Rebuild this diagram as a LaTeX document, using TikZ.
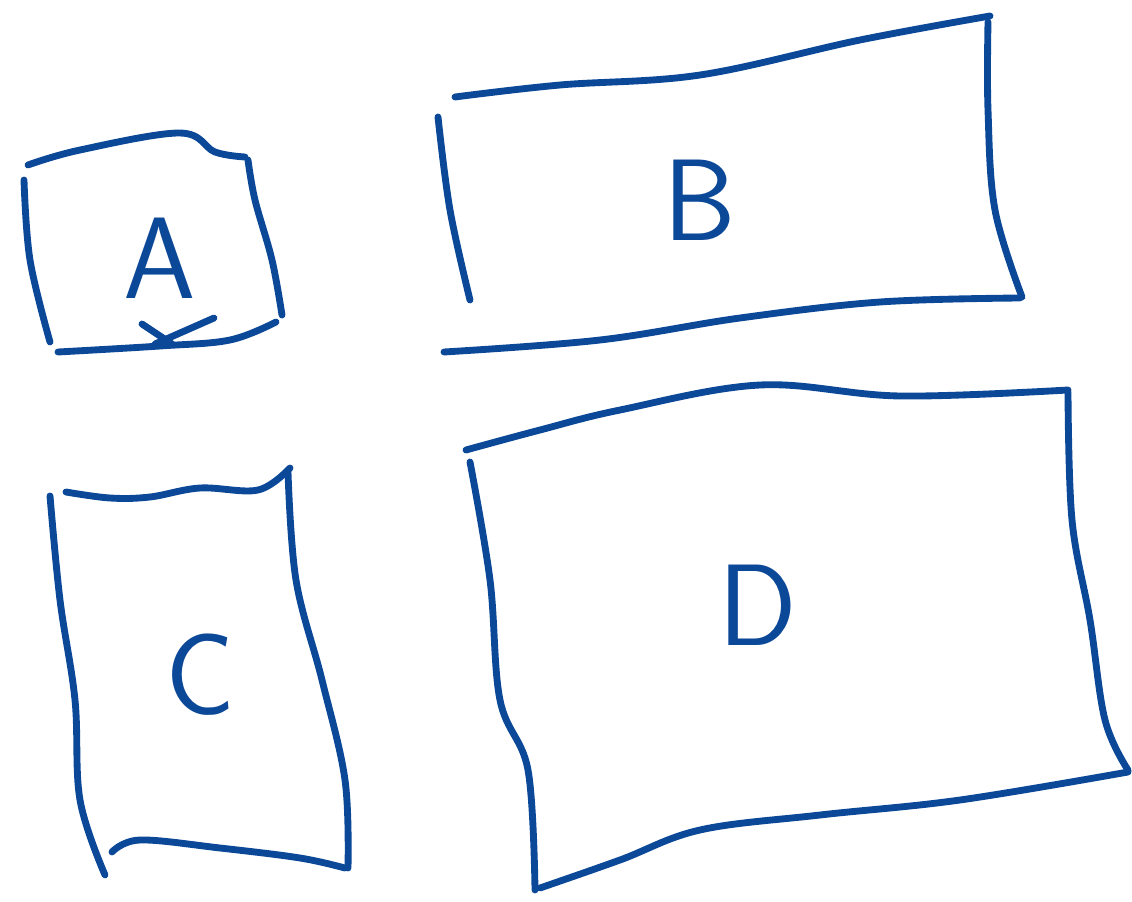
\documentclass[tikz,border=0pt]{standalone}
\usepackage{xcolor}
\definecolor{ink}{RGB}{12,72,152}

\begin{document}
\begin{tikzpicture}[
  x=0.02cm, y=-0.02cm,
  pen/.style={draw=ink, line width=3.9pt, line cap=round, line join=round},
  lbl/.style={text=ink, font=\fontsize{66}{66}\selectfont\sffamily}
]
\useasboundingbox (0,0) rectangle (1132,902);
% box A
\draw[pen] plot[smooth, tension=0.6] coordinates {(28,165) (80,150) (180,133) (215,152) (245,157)};
\draw[pen] plot[smooth, tension=0.6] coordinates {(248,160) (255,200) (272,260) (282,315)};
\draw[pen] plot[smooth, tension=0.6] coordinates {(276,322) (230,340) (160,346) (58,352)};
\draw[pen] plot[smooth, tension=0.6] coordinates {(24,180) (30,260) (50,342)};
\draw[pen] (142,324) -- (172,344);
\draw[pen] (214,318) -- (155,344);
% box B
\draw[pen] plot[smooth, tension=0.6] coordinates {(438,117) (450,210) (470,300)};
\draw[pen] plot[smooth, tension=0.6] coordinates {(455,97) (560,85) (700,75) (860,40) (990,16)};
\draw[pen] plot[smooth, tension=0.6] coordinates {(988,22) (988,110) (995,210) (1022,297)};
\draw[pen] plot[smooth, tension=0.6] coordinates {(1020,298) (880,302) (740,318) (600,340) (444,352)};
% box C
\draw[pen] plot[smooth, tension=0.6] coordinates {(66,492) (110,498) (150,497) (200,488) (258,490) (290,468)};
\draw[pen] plot[smooth, tension=0.6] coordinates {(50,496) (60,600) (75,700) (80,800) (105,875)};
\draw[pen] plot[smooth, tension=0.6] coordinates {(288,472) (296,580) (322,680) (345,780) (348,868)};
\draw[pen] plot[smooth, tension=0.6] coordinates {(112,852) (140,840) (220,848) (300,858) (345,868)};
% box D
\draw[pen] plot[smooth, tension=0.6] coordinates {(466,450) (540,430) (620,410) (760,385) (900,396) (1068,390)};
\draw[pen] plot[smooth, tension=0.6] coordinates {(470,462) (490,580) (500,700) (528,770) (535,890)};
\draw[pen] plot[smooth, tension=0.6] coordinates {(1068,392) (1072,520) (1090,620) (1105,720) (1128,770)};
\draw[pen] plot[smooth, tension=0.6] coordinates {(540,888) (620,860) (700,830) (820,815) (960,800) (1128,772)};
% labels
\node[lbl] (A) at (160,258) {A};
\node[lbl] (B) at (700,200) {B};
\node[lbl] (C) at (200,675) {C};
\node[lbl] (D) at (758,605) {D};
\end{tikzpicture}
\end{document}
